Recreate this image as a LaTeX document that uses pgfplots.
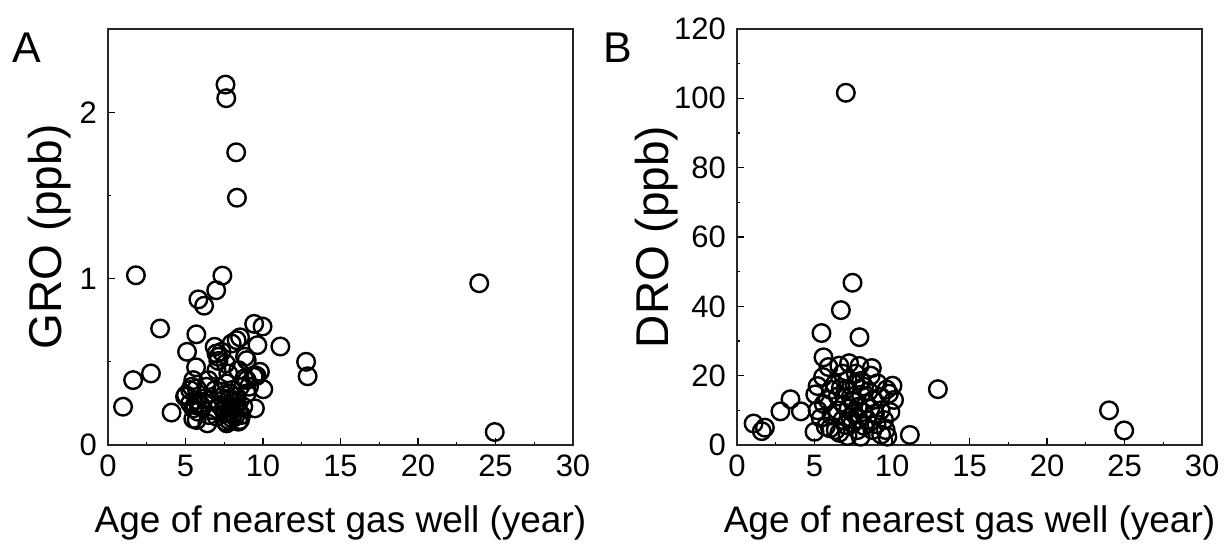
\documentclass[border=0pt]{standalone}
\usepackage{fontspec}
\setmainfont{Liberation Sans}
\usepackage{pgfplots}
\pgfplotsset{compat=1.18}
\begin{document}
\begin{tikzpicture}
\path[use as bounding box] (0,0) rectangle (1225pt,548pt);
\pgfplotsset{
  common/.style={
    scale only axis, width=465pt, height=416pt,
    anchor=south west,
    xmin=0, xmax=30, xtick={0,5,...,30}, minor x tick num=1,
    tick pos=left, tick align=inside,
    major tick length=6.7pt, minor tick length=3.3pt,
    every tick/.style={black, line width=1.2pt},
    axis line style={line width=1.3pt, black!85},
    /pgf/number format/assume math mode=true,
    tick label style={font=\fontsize{31}{31}\selectfont, inner sep=0pt},
    xticklabel style={yshift=-10pt},
    yticklabel style={xshift=-11pt},
    xlabel style={font=\fontsize{37}{37}\selectfont, inner sep=0pt, at={([yshift=-88pt]axis description cs:0.5,0)}, anchor=base},
    clip=false,
  },
  pts/.style={only marks, mark=o, mark size=8.8pt, mark options={line width=2.4pt, black}},
}
\node[anchor=base west, inner sep=0pt, font=\fontsize{43}{43}\selectfont] at (12pt,485pt) {A};
\node[anchor=base west, inner sep=0pt, font=\fontsize{43}{43}\selectfont] at (603pt,485pt) {B};
\begin{axis}[common, at={(108pt,103pt)},
  ymin=0, ymax=2.5, ytick={0,1,2}, minor y tick num=1,
  xlabel={Age of nearest gas well (year)},
  ylabel={GRO (ppb)},
  ylabel style={font=\fontsize{46}{46}\selectfont, inner sep=0pt, at={([xshift=-46pt]axis description cs:0,0.5)}, anchor=base, rotate=0},
]
\addplot[pts] coordinates {
(0.97,0.23) (1.62,0.39) (1.80,1.02) (2.77,0.43) (3.36,0.70) (4.10,0.195)
(5.10,0.56) (5.70,0.665) (5.83,0.875) (6.20,0.837) (6.98,0.93) (7.38,1.018)
(7.58,2.166) (7.63,2.084) (8.27,1.759) (8.32,1.486) (11.12,0.592) (12.78,0.50)
(12.88,0.413) (23.95,0.972) (24.95,0.078) (9.43,0.728) (9.97,0.712) (9.64,0.60)
(8.52,0.647) (8.30,0.63) (7.98,0.61) (6.88,0.59) (7.33,0.56) (7.12,0.53)
(7.12,0.505) (7.00,0.55) (8.84,0.53) (8.95,0.51) (9.8,0.44) (5.68,0.467)
(5.50,0.39) (5.40,0.35) (5.03,0.30) (5.72,0.27) (5.61,0.24) (5.94,0.246)
(5.50,0.157) (5.72,0.15) (6.41,0.13) (6.47,0.39) (6.35,0.35) (6.90,0.33)
(6.58,0.27) (6.69,0.21) (7.01,0.17) (7.61,0.14) (7.44,0.27) (7.65,0.37)
(7.87,0.31) (7.98,0.25) (8.09,0.19) (8.41,0.14) (8.30,0.29) (8.52,0.35)
(8.95,0.39) (8.95,0.31) (8.73,0.23) (7.44,0.21) (7.76,0.43) (8.41,0.45)
(10.02,0.335) (9.59,0.415) (9.40,0.41) (9.48,0.22) (9.45,0.42) (7.9,0.20)
(8.0,0.16) (7.7,0.24) (8.2,0.22) (8.1,0.27) (7.3,0.32) (7.0,0.45)
(6.2,0.28) (5.3,0.25) (5.8,0.20) (6.5,0.18) (8.6,0.18) (7.2,0.24)
(9.1,0.35) (8.8,0.40) (7.6,0.49) (5.3,0.33) (7.66,0.13) (8.52,0.15)
(5.72,0.34) (4.97,0.29) (7.8,0.28) (8.0,0.33) (7.5,0.30) (8.3,0.25)
(7.9,0.23) (7.6,0.19) (8.2,0.17) (7.8,0.15) (6.0,0.23) (5.5,0.22)
};
\end{axis}
\begin{axis}[common, at={(737pt,103pt)},
  ymin=0, ymax=120, ytick={0,20,...,120}, minor y tick num=1,
  xlabel={Age of nearest gas well (year)},
  ylabel={DRO (ppb)},
  ylabel style={font=\fontsize{46}{46}\selectfont, inner sep=0pt, at={([xshift=-69pt]axis description cs:0,0.5)}, anchor=base, rotate=0},
]
\addplot[pts] coordinates {
(1.07,6.2) (1.60,4.0) (1.80,5.0) (2.80,9.7) (3.45,13.2) (4.12,9.7)
(5.00,3.8) (5.05,14.6) (5.45,32.3) (5.58,25.3) (5.55,19.6) (6.70,38.9)
(7.02,101.6) (7.45,46.8) (7.90,31.1) (8.70,22.2) (6.60,22.9) (7.23,23.6)
(7.90,22.8) (10.03,17.1) (9.65,16.0) (10.13,13.0) (12.96,16.1) (11.15,2.9)
(24.0,10.0) (24.98,4.2) (5.20,10.0) (5.40,7.8) (5.73,5.3) (6.37,4.3)
(6.05,15.9) (5.84,13.0) (6.48,10.0) (6.80,7.2) (7.13,18.7) (7.34,13.9)
(7.55,9.1) (7.77,4.3) (7.98,2.4) (8.20,16.8) (8.31,12.0) (8.41,7.2)
(8.74,4.3) (9.06,17.8) (9.27,13.9) (9.27,10.0) (9.49,7.2) (9.59,4.3)
(9.70,2.4) (6.80,20.6) (7.66,20.6) (8.63,20.0) (5.20,17.0) (7.13,2.6)
(7.45,6.2) (6.1,8.5) (6.9,11.5) (6.3,17.5) (8.0,14.5) (8.9,9.0)
(7.0,16.0) (8.5,15.5) (9.0,6.0) (6.0,4.8) (5.6,11.8) (7.8,11.0)
(8.2,5.5) (7.3,8.0) (9.8,14.8) (9.9,9.5) (8.8,13.0) (6.5,14.0)
(7.6,17.5) (5.9,22.5) (8.0,18.5) (6.6,3.5) (9.3,3.0) (7.0,5.8)
(7.5,12.5) (8.1,9.5) (7.2,10.5) (8.6,10.5) (7.8,7.5) (6.7,16.5)
};
\end{axis}
\end{tikzpicture}
\end{document}
